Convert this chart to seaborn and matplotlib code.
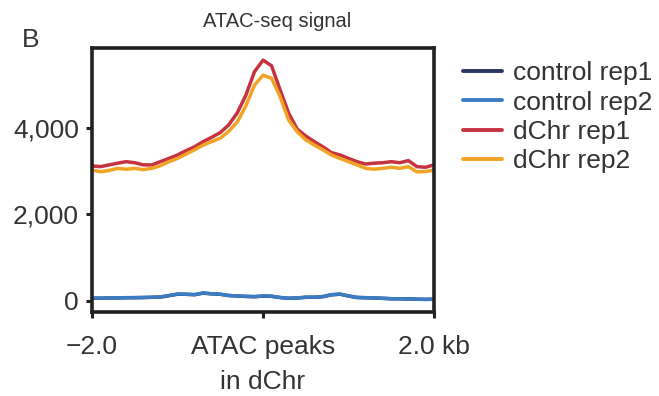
import numpy as np
import pandas as pd
import matplotlib
matplotlib.use("Agg")
import matplotlib.pyplot as plt
import seaborn as sns

# ---- data ----
positions_kb = [-2.0, -1.9, -1.8, -1.7, -1.6, -1.5, -1.4, -1.3, -1.2, -1.1,
                -1.0, -0.9, -0.8, -0.7, -0.6, -0.5, -0.4, -0.3, -0.2, -0.1,
                0.0, 0.1, 0.2, 0.3, 0.4, 0.5, 0.6, 0.7, 0.8, 0.9,
                1.0, 1.1, 1.2, 1.3, 1.4, 1.5, 1.6, 1.7, 1.8, 1.9, 2.0]

control_rep1 = [55, 58, 62, 64, 68, 70, 72, 78, 85, 115,
                150, 148, 138, 175, 158, 148, 120, 108, 98, 92,
                105, 100, 72, 55, 62, 78, 80, 92, 135, 150,
                108, 74, 68, 62, 54, 45, 44, 40, 34, 30, 33]
control_rep2 = [60, 60, 65, 65, 70, 70, 75, 80, 85, 120,
                155, 150, 140, 180, 160, 150, 120, 110, 100, 95,
                110, 105, 75, 55, 65, 80, 80, 95, 140, 155,
                110, 75, 70, 65, 55, 45, 45, 40, 35, 30, 35]
dchr_rep1 = [3125, 3110, 3150, 3190, 3225, 3200, 3150, 3150, 3225, 3300,
             3380, 3480, 3570, 3690, 3790, 3900, 4080, 4360, 4770, 5310,
             5580, 5450, 4890, 4350, 3980, 3820, 3690, 3570, 3435, 3380,
             3300, 3225, 3170, 3190, 3200, 3225, 3200, 3250, 3110, 3095, 3150]
dchr_rep2 = [3030, 2990, 3020, 3070, 3050, 3070, 3040, 3070, 3130, 3225,
             3300, 3400, 3500, 3610, 3690, 3770, 3930, 4150, 4520, 5000,
             5230, 5160, 4730, 4190, 3920, 3730, 3610, 3500, 3380, 3300,
             3225, 3150, 3070, 3050, 3070, 3095, 3070, 3110, 2990, 2995, 3030]

series_names = ["control rep1", "control rep2", "dChr rep1", "dChr rep2"]
series_values = [control_rep1, control_rep2, dchr_rep1, dchr_rep2]
series_colors = ["#2b3562", "#3b7cc4", "#c7323f", "#f2a324"]

y_ticks = [0, 2000, 4000]
y_tick_labels = ["0", "2,000", "4,000"]
x_ticks = [-2.0, 0.0, 2.0]
x_tick_labels = ["\u22122.0", "ATAC peaks\nin dChr", "2.0 kb"]

# ---- build long-form table ----
frames = []
for name, vals in zip(series_names, series_values):
    frames.append(pd.DataFrame({"pos": positions_kb, "signal": vals, "series": name}))
df = pd.concat(frames, ignore_index=True)

sns.set_theme(style="white")
plt.rcParams["font.family"] = ["Liberation Sans", "DejaVu Sans"]
text_color = "#333333"

fig = plt.figure(figsize=(6.59, 3.96), dpi=100)
ax = fig.add_axes([0.1396, 0.2109, 0.519, 0.668])

sns.lineplot(data=df, x="pos", y="signal", hue="series", hue_order=series_names,
             palette=dict(zip(series_names, series_colors)), linewidth=2.5,
             ax=ax, legend=True)

ax.set_xlim(-2.0, 2.0)
ax.set_ylim(-274, 5863)
ax.set_xticks(x_ticks)
ax.set_xticklabels(x_tick_labels, fontsize=19, color=text_color, linespacing=1.55)
ax.set_yticks(y_ticks)
ax.set_yticklabels(y_tick_labels, fontsize=19, color=text_color)
ax.set_xlabel("")
ax.set_ylabel("")

for sp in ax.spines.values():
    sp.set_visible(True)
    sp.set_linewidth(2.6)
    sp.set_color("#222222")

ax.tick_params(axis="both", which="major", direction="out", length=4.5, width=2.2,
               color="#222222", bottom=True, left=True)
ax.tick_params(axis="y", pad=5)
ax.tick_params(axis="x", pad=12)

ax.set_title("ATAC-seq signal", fontsize=14.5, color=text_color, pad=15, x=0.54)

fig.text(0.033, 0.898, "B", fontsize=19, color=text_color, ha="left", va="center")

handles, labels = ax.get_legend_handles_labels()
leg = ax.legend(handles, labels, loc="upper left", bbox_to_anchor=(0.703, 0.845),
                bbox_transform=fig.transFigure, frameon=False, fontsize=19,
                handlelength=1.45, handletextpad=0.42, labelspacing=0.2,
                borderaxespad=0, borderpad=0)
for t in leg.get_texts():
    t.set_color(text_color)
for h in leg.get_lines():
    h.set_linewidth(2.8)

fig.savefig("out.png", dpi=100)
